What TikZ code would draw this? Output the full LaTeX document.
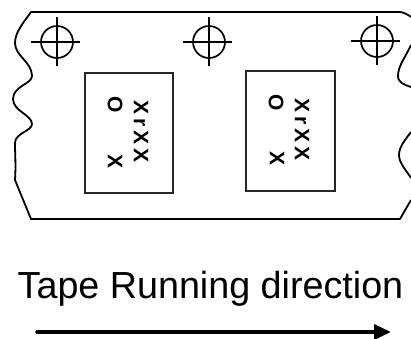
\documentclass[tikz,border=0pt]{standalone}
\usepackage{fontspec}
\setmainfont{Liberation Sans}
\usetikzlibrary{arrows.meta}
\tikzset{
  tapeline/.style={line width=1.8pt,line join=round},
  boxline/.style={line width=1.4pt,draw=black!85},
  crossline/.style={line width=1.7pt},
  marktext/.style={rotate=-90,inner sep=0pt,font=\fontsize{21}{21}\bfseries}
}
\begin{document}
\begin{tikzpicture}[x=1pt,y=-1pt]
\useasboundingbox (0,0) rectangle (411,338);
\draw[tapeline] (411,17) .. controls (407,14) and (403,12) .. (399,12) -- (31,12)
  .. controls (24,22) and (15,32) .. (15,43) .. controls (15,56) and (32,62) .. (32,76)
  .. controls (32,84) and (13,86) .. (13,99) .. controls (13,111) and (32,115) .. (32,124)
  .. controls (32,131) and (15,133) .. (15,143) .. controls (15,155) and (16,165) .. (15,180)
  -- (31,219) -- (400,219) -- (411,200);
\draw[tapeline] (411,45) .. controls (405,58) and (398,66) .. (398,76) .. controls (398,83) and (405,85) .. (411,87);
\draw[tapeline] (411,132) .. controls (405,140) and (399,147) .. (399,155) .. controls (399,163) and (406,170) .. (411,178);
% registration marks
\foreach \cx/\cy in {57/42,209/42,377/41}{
  \draw[crossline] (\cx,\cy) circle (16);
  \draw[crossline] (\cx-26,\cy) -- (\cx+23,\cy);
  \draw[crossline] (\cx,\cy-25) -- (\cx,\cy+24);
}
% label boxes
\draw[boxline] (85,73) rectangle (173,193);
\draw[boxline] (246,71) rectangle (335,191);
\node[marktext] (rowa) at (141,131.5) {\addfontfeature{LetterSpace=20}XrXX};
\node[marktext] (oa) at (115,105) {O};
\node[marktext] (xa) at (115,161) {X};
\node[marktext] (rowb) at (302,129.5) {\addfontfeature{LetterSpace=20}XrXX};
\node[marktext] (ob) at (276,103) {O};
\node[marktext] (xb) at (277,158) {X};
\node[font=\fontsize{37.7}{37.7}\selectfont,inner sep=0pt,anchor=base] (caption) at (210.5,298) {Tape Running direction};
\coordinate (arrowstart) at (37,332);
\coordinate (arrowend) at (391,332);
\draw[line width=3.4pt,line cap=round,-{Stealth[length=17pt,width=15pt,inset=0pt]}] (arrowstart) -- (arrowend);
\end{tikzpicture}
\end{document}
